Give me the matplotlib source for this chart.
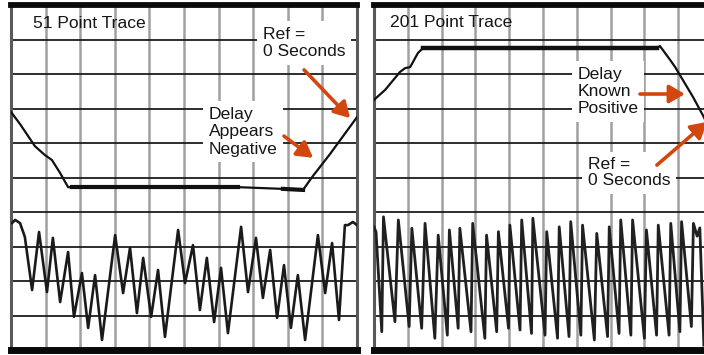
import matplotlib
matplotlib.use("Agg")
import matplotlib.pyplot as plt
import numpy as np

# ---------------- data (in screen divisions, 0..10) ----------------
left_title = "51 Point Trace"
right_title = "201 Point Trace"

# left panel, upper (delay) trace
left_top_x = [0.00, 0.26, 0.69, 0.98, 1.18, 1.42, 1.65, 1.76, 6.56, 7.86, 8.44, 8.70, 9.22, 10.0]
left_top_y = [6.90, 6.55, 5.91, 5.65, 5.51, 5.13, 4.72, 4.72, 4.72, 4.67, 4.64, 5.01, 5.68, 6.75]

# left panel, lower (phase) trace, 51 points
left_low_x = [0.03, 0.12, 0.26, 0.40, 0.61, 0.81, 1.04, 1.21, 1.42, 1.65, 1.82, 2.05, 2.23,
              2.43, 2.63, 3.01, 3.24, 3.44, 3.64, 3.82, 4.05, 4.25, 4.45, 4.83, 5.03, 5.26,
              5.46, 5.66, 5.87, 6.07, 6.27, 6.65, 6.85, 7.08, 7.28, 7.49, 7.69, 7.89, 8.09,
              8.29, 8.50, 8.87, 9.08, 9.28, 9.48, 9.65, 9.74, 9.88, 10.0]
left_low_y = [3.68, 3.77, 3.68, 3.28, 1.74, 3.42, 1.68, 3.25, 1.39, 2.84, 0.96, 2.23, 0.64,
              2.17, 0.29, 3.33, 1.65, 2.96, 1.07, 2.67, 0.96, 2.32, 0.38, 3.48, 1.94, 3.04,
              1.16, 2.67, 0.81, 2.38, 0.49, 3.57, 1.68, 3.25, 1.51, 2.90, 0.93, 2.46, 0.64,
              2.17, 0.29, 3.33, 1.65, 3.10, 0.87, 3.62, 3.62, 3.71, 3.62]

# right panel, upper (delay) trace
right_top_x = [0.00, 0.33, 0.77, 0.92, 1.07, 1.30, 1.45, 8.37, 8.46, 8.76, 8.91, 9.44, 9.76, 10.0]
right_top_y = [7.25, 7.54, 8.06, 8.17, 8.20, 8.61, 8.75, 8.75, 8.81, 8.41, 8.20, 7.33, 6.75, 6.23]

# right panel, lower (phase) trace: troughs followed by peaks
right_start_x = [0.00, 0.06]
right_start_y = [3.57, 3.42]
right_trough_x = [0.23, 0.62, 1.04, 1.41, 1.80, 2.17, 2.49, 2.87, 3.28, 3.63, 3.98, 4.32, 4.66,
                  5.06, 5.43, 5.77, 6.12, 6.52, 6.91, 7.25, 7.60, 8.00, 8.36, 8.73, 9.05, 9.39]
right_trough_y = [0.53, 0.82, 0.68, 0.63, 0.34, 0.43, 0.63, 0.53, 0.34, 0.53, 0.63, 0.58, 0.48,
                  0.43, 0.34, 0.39, 0.43, 0.29, 0.39, 0.48, 0.43, 0.34, 0.43, 0.43, 0.53, 0.68]
right_peak_x = [0.28, 0.72, 1.12, 1.51, 1.90, 2.23, 2.54, 2.92, 3.33, 3.68, 4.02, 4.37, 4.70,
                5.11, 5.48, 5.82, 6.17, 6.59, 6.96, 7.30, 7.65, 8.06, 8.41, 8.78, 9.10, 9.45]
right_peak_y = [3.86, 3.77, 3.53, 3.67, 3.33, 3.48, 3.53, 3.67, 3.33, 3.43, 3.62, 3.77, 3.82,
                3.43, 3.57, 3.72, 3.62, 3.38, 3.57, 3.77, 3.77, 3.48, 3.62, 3.67, 3.72, 3.67]
right_end_x = [9.56, 9.64, 9.76]
right_end_y = [3.30, 3.54, 0.14]

# ---------------- figure ----------------
W, H = 704, 355
fig = plt.figure(figsize=(W / 100, H / 100), dpi=100)
fig.patch.set_facecolor("white")

ax_l = fig.add_axes([11 / W, 5 / H, 346 / W, 345 / H])
ax_r = fig.add_axes([374 / W, 5 / H, 338 / W, 345 / H])

TXT = "#161616"
ORANGE = "#d2470f"
FONT = ["Liberation Sans", "DejaVu Sans"]
FS = 12.6


def style(ax):
    ax.set_xlim(0, 10)
    ax.set_ylim(0, 10)
    ax.set_xticks([])
    ax.set_yticks([])
    for v in range(1, 10):
        ax.axvline(v, color="#a0a0a0", lw=1.8, zorder=1)
    for h in range(1, 10):
        ax.axhline(h, color="#1c1c1c", lw=1.3, zorder=1.2)
    ax.spines["top"].set_linewidth(4.2)
    ax.spines["top"].set_color("#0a0a0a")
    ax.spines["bottom"].set_linewidth(5.0)
    ax.spines["bottom"].set_color("#0a0a0a")
    for s in ("left", "right"):
        ax.spines[s].set_linewidth(2.2)
        ax.spines[s].set_color("#5a5a5a")


def label(ax, x, y, s, ls=1.2, box=True):
    kw = dict(ha="left", va="center", fontsize=FS, color=TXT, family=FONT,
              linespacing=ls, zorder=4)
    if box:
        kw["bbox"] = dict(fc="white", ec="none", pad=4)
    ax.text(x, y, s, **kw)


def arrow(ax, xy_tail, xy_head):
    ax.annotate("", xy=xy_head, xytext=xy_tail,
                arrowprops=dict(arrowstyle="-|>,head_length=0.55,head_width=0.32",
                                color=ORANGE, lw=2.6,
                                mutation_scale=17, shrinkA=0, shrinkB=0),
                zorder=5)


for ax in (ax_l, ax_r):
    style(ax)

# ---- left panel ----
ax_l.plot(left_top_x, left_top_y, color="#111111", lw=1.6, zorder=3, solid_joinstyle="round")
ax_l.plot(left_top_x[7:9], left_top_y[7:9], color="#111111", lw=3.0, zorder=3)
ax_l.plot(left_top_x[9:11], left_top_y[9:11], color="#111111", lw=3.0, zorder=3)
ax_l.plot(left_low_x, left_low_y, color="#1a1a1a", lw=1.9, zorder=3,
          solid_joinstyle="round")

label(ax_l, 0.64, 9.45, left_title, box=False)
label(ax_l, 7.28, 8.90, "Ref =\n0 Seconds")
label(ax_l, 5.72, 6.32, "Delay\nAppears\nNegative")
arrow(ax_l, (8.47, 8.12), (9.80, 6.72))
arrow(ax_l, (7.89, 6.20), (8.73, 5.57))

# ---- right panel ----
ax_r.plot(right_top_x, right_top_y, color="#111111", lw=1.6, zorder=3, solid_joinstyle="round")
ax_r.plot(right_top_x[6:8], right_top_y[6:8], color="#111111", lw=3.2, zorder=3)

rx = list(right_start_x)
ry = list(right_start_y)
for tx, ty, px, py in zip(right_trough_x, right_trough_y, right_peak_x, right_peak_y):
    rx += [tx, px]
    ry += [ty, py]
rx += right_end_x
ry += right_end_y
ax_r.plot(rx, ry, color="#202020", lw=2.0, zorder=3, solid_joinstyle="round")

label(ax_r, 0.47, 9.48, right_title, box=False)
label(ax_r, 6.01, 7.49, "Delay\nKnown\nPositive")
label(ax_r, 6.33, 5.14, "Ref =\n0 Seconds", ls=1.05)
arrow(ax_r, (7.87, 7.42), (9.20, 7.42))
arrow(ax_r, (8.37, 5.36), (9.85, 6.61))

fig.savefig("out.png", dpi=100, facecolor="white")
